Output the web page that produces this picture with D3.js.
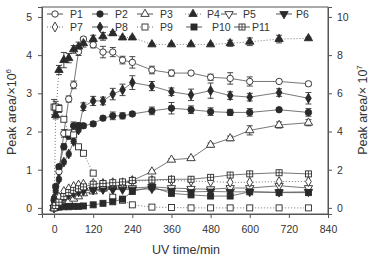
<!DOCTYPE html>
<html>
<head>
<meta charset="utf-8">
<script src="https://cdn.jsdelivr.net/npm/d3@7"></script>
<style>
  body { margin: 0; background: #fff; }
  svg text { font-family: "Liberation Sans", Arial, sans-serif; fill: #333; }
</style>
</head>
<body>
<div id="chart"></div>
<script>
// sampling times (min)
const times = [0, 5, 15, 30, 45, 60, 75, 90, 120, 150, 180, 210, 240, 300, 360, 420, 480, 540, 600, 690, 780];

// peak areas, left axis units (x10^6)
const p1 = [0, 0.3, 0.95, 1.95, 2.85, 3.22, 4.09, 4.42, 4.27, 4.08, 4.08, 3.87, 3.81, 3.61, 3.53, 3.53, 3.42, 3.39, 3.31, 3.31, 3.25];
const p2 = [0.2, 0.56, 1.08, 1.6, 1.88, 2.15, 2.15, 2.15, 2.2, 2.35, 2.41, 2.41, 2.46, 2.54, 2.61, 2.57, 2.52, 2.5, 2.5, 2.57, 2.5];
const p3 = [0, 0.02, 0.05, 0.12, 0.18, 0.24, 0.3, 0.38, 0.43, 0.5, 0.55, 0.62, 0.72, 0.95, 1.26, 1.3, 1.65, 1.82, 2.03, 2.17, 2.23];
const p4 = [0, 2.43, 3.61, 3.87, 3.92, 4.15, 4.22, 4.31, 4.42, 4.49, 4.57, 4.46, 4.46, 4.28, 4.28, 4.28, 4.28, 4.31, 4.35, 4.42, 4.44];
const p5 = [0, 0.05, 0.12, 0.25, 0.33, 0.38, 0.42, 0.45, 0.48, 0.5, 0.5, 0.52, 0.52, 0.55, 0.52, 0.5, 0.49, 0.52, 0.52, 0.58, 0.52];
const p6 = [0, 0.1, 0.2, 0.3, 0.36, 0.4, 0.43, 0.45, 0.47, 0.48, 0.48, 0.48, 0.48, 0.5, 0.45, 0.42, 0.43, 0.42, 0.42, 0.41, 0.42];
const p7 = [0, 0.12, 0.28, 0.43, 0.5, 0.56, 0.6, 0.62, 0.64, 0.64, 0.66, 0.66, 0.7, 0.72, 0.72, 0.7, 0.69, 0.67, 0.67, 0.69, 0.69];
const p8 = [0.25, 0.45, 0.75, 1.2, 1.41, 1.74, 2.04, 2.65, 2.8, 2.8, 2.98, 3.09, 3.28, 3.19, 3.04, 2.96, 3.07, 2.94, 2.9, 3.02, 2.87];
const p9 = [2.64, 2.64, 2.6, 2.32, 1.96, 1.91, 1.6, 1.43, 0.91, 0.6, 0.28, 0.2, 0.08, 0.02, 0.01, 0, 0, 0, 0, 0, 0];
const p10 = [0, 0.01, 0.02, 0.03, 0.03, 0.04, 0.04, 0.05, 0.08, 0.12, 0.16, 0.23, 0.43, 0.55, 0.38, 0.34, 0.31, 0.31, 0.42, 0.4, 0.4];
const p11 = [0, 0.06, 0.15, 0.3, 0.4, 0.46, 0.5, 0.55, 0.62, 0.64, 0.66, 0.68, 0.72, 0.73, 0.75, 0.75, 0.8, 0.86, 0.89, 0.92, 0.89];

// error bars (half widths), same units
const e1 = [0, 0.05, 0.05, 0.1, 0.08, 0.1, 0.1, 0.05, 0.08, 0.15, 0.12, 0.1, 0.15, 0.1, 0.08, 0.05, 0.08, 0.15, 0.12, 0.05, 0.05];
const e2 = [0.05, 0.05, 0.05, 0.08, 0.08, 0.1, 0.08, 0.06, 0.06, 0.05, 0.1, 0.08, 0.05, 0.1, 0.15, 0.1, 0.1, 0.08, 0.1, 0.05, 0.1];
const e3 = [0, 0, 0, 0, 0, 0, 0, 0, 0, 0, 0, 0, 0, 0.03, 0.03, 0.03, 0.05, 0.06, 0.12, 0.08, 0.08];
const e4 = [0, 0.1, 0.12, 0.2, 0.12, 0.1, 0.12, 0.1, 0.1, 0.1, 0.05, 0.03, 0.03, 0.03, 0.03, 0.03, 0.03, 0.08, 0.1, 0.1, 0.03];
const e8 = [0.05, 0.05, 0.05, 0.05, 0.05, 0.05, 0.05, 0.1, 0.12, 0.1, 0.15, 0.15, 0.18, 0.12, 0.1, 0.15, 0.2, 0.1, 0.1, 0.1, 0.15];
const e9 = [0.2, 0.15, 0.1, 0.05, 0.05, 0.05, 0.05, 0, 0, 0, 0, 0, 0, 0, 0, 0, 0, 0, 0, 0, 0];

const xTicks = [0, 120, 240, 360, 480, 600, 720, 840];
const yLeftTicks = [0, 1, 2, 3, 4, 5];
const yRightTicks = [0, 2, 4, 6, 8, 10];

const series = [
  { name: "P1", values: p1, err: e1, shape: "circle", fill: false, dotted: false },
  { name: "P2", values: p2, err: e2, shape: "circle", fill: true, dotted: false },
  { name: "P3", values: p3, err: e3, shape: "triangle", fill: false, dotted: false },
  { name: "P4", values: p4, err: e4, shape: "triangle", fill: true, dotted: true },
  { name: "P5", values: p5, err: null, shape: "tridown", fill: false, dotted: false },
  { name: "P6", values: p6, err: null, shape: "tridown", fill: true, dotted: false },
  { name: "P7", values: p7, err: null, shape: "diamond", fill: false, dotted: true },
  { name: "P8", values: p8, err: e8, shape: "diamond", fill: true, dotted: false },
  { name: "P9", values: p9, err: e9, shape: "square", fill: false, dotted: true },
  { name: "P10", values: p10, err: null, shape: "square", fill: true, dotted: false },
  { name: "P11", values: p11, err: null, shape: "squarecross", fill: false, dotted: false }
];

const width = 373, height = 262;
const svg = d3.select("#chart").append("svg")
  .attr("width", width).attr("height", height);

const x = d3.scaleLinear().domain([-37, 840]).range([42, 328]);
const yL = d3.scaleLinear().domain([-0.16, 5.26]).range([214, 7]);
const yR = d3.scaleLinear().domain([-0.32, 10.52]).range([214, 7]);

const ink = "#2a2a2a";

// frame
svg.append("rect")
  .attr("x", 42).attr("y", 7).attr("width", 286).attr("height", 207)
  .attr("fill", "none").attr("stroke", "#555").attr("stroke-width", 1);

// axes
const gx = svg.append("g").attr("transform", "translate(0,214)")
  .call(d3.axisBottom(x).tickValues(xTicks).tickSize(4).tickPadding(8).tickFormat(d3.format("d")));
const gl = svg.append("g").attr("transform", "translate(42,0)")
  .call(d3.axisLeft(yL).tickValues(yLeftTicks).tickSize(4).tickPadding(6).tickFormat(d3.format("d")));
const gr = svg.append("g").attr("transform", "translate(328,0)")
  .call(d3.axisRight(yR).tickValues(yRightTicks).tickSize(4).tickPadding(5).tickFormat(d3.format("d")));
[gx, gl, gr].forEach(g => {
  g.select(".domain").attr("stroke", "#555");
  g.selectAll(".tick line").attr("stroke", "#555");
  g.selectAll(".tick text").attr("font-size", 10.5).attr("fill", "#333");
});

// axis titles
const leftTitle = svg.append("text")
  .attr("transform", "translate(16,112) rotate(-90)")
  .attr("text-anchor", "middle").attr("font-size", 12.5);
leftTitle.append("tspan").text("Peak area/×10");
leftTitle.append("tspan").attr("dy", -5).attr("font-size", 8).text("6");

const rightTitle = svg.append("text")
  .attr("transform", "translate(367,110) rotate(-90)")
  .attr("text-anchor", "middle").attr("font-size", 12.5);
rightTitle.append("tspan").text("Peak area/× 10");
rightTitle.append("tspan").attr("dy", -5).attr("font-size", 8).text("7");

svg.append("text")
  .attr("x", 186).attr("y", 254)
  .attr("text-anchor", "middle").attr("font-size", 12.5)
  .text("UV time/min");

// marker drawing
function drawMarker(g, s, cx, cy) {
  const fill = s.fill ? ink : "#fff";
  if (s.shape === "circle") {
    g.append("circle").attr("cx", cx).attr("cy", cy).attr("r", 3.2)
      .attr("fill", fill).attr("stroke", ink).attr("stroke-width", 0.9);
  } else if (s.shape === "square" || s.shape === "squarecross") {
    g.append("rect").attr("x", cx - 3).attr("y", cy - 3).attr("width", 6).attr("height", 6)
      .attr("fill", fill).attr("stroke", ink).attr("stroke-width", 0.9);
    if (s.shape === "squarecross") {
      g.append("path").attr("d", `M${cx - 3},${cy}H${cx + 3}M${cx},${cy - 3}V${cy + 3}`)
        .attr("stroke", ink).attr("stroke-width", 0.8);
    }
  } else {
    let sym = d3.symbolTriangle, rot = 0, size = 30;
    if (s.shape === "tridown") rot = 180;
    if (s.shape === "diamond") { sym = d3.symbolDiamond; size = 28; }
    g.append("path").attr("d", d3.symbol().type(sym).size(size)())
      .attr("transform", `translate(${cx},${cy}) rotate(${rot})`)
      .attr("fill", fill).attr("stroke", ink).attr("stroke-width", 0.9);
  }
}

const line = d3.line().x(d => x(d.t)).y(d => yL(d.v));

const plot = svg.append("g");
series.forEach(s => {
  const pts = times.map((t, i) => ({ t: t, v: s.values[i] }));
  plot.append("path").datum(pts)
    .attr("d", line)
    .attr("fill", "none")
    .attr("stroke", s.dotted ? "#777" : "#555")
    .attr("stroke-width", s.dotted ? 1 : 0.8)
    .attr("stroke-dasharray", s.dotted ? "1,2" : null);
});

series.forEach(s => {
  if (!s.err) return;
  times.forEach((t, i) => {
    const e = s.err[i];
    if (!e) return;
    const cx = x(t), y1 = yL(s.values[i] + e), y2 = yL(s.values[i] - e);
    plot.append("path")
      .attr("d", `M${cx},${y1}V${y2}M${cx - 3},${y1}H${cx + 3}M${cx - 3},${y2}H${cx + 3}`)
      .attr("stroke", "#333").attr("stroke-width", 0.9).attr("fill", "none");
  });
});

series.forEach(s => {
  const g = plot.append("g");
  times.forEach((t, i) => drawMarker(g, s, x(t), yL(s.values[i])));
});

// legend
const legendPos = [
  [55, 70, 14], [100, 115, 14], [145, 160, 14], [193, 207, 14], [229, 243, 14], [284, 296, 14],
  [55, 70, 27], [100, 115, 27], [145, 160, 27], [194, 212, 27], [242, 252, 27]
];
const legend = svg.append("g");
series.forEach((s, i) => {
  const [sx, tx, ly] = legendPos[i];
  legend.append("line")
    .attr("x1", sx - 8).attr("x2", sx + 8).attr("y1", ly).attr("y2", ly)
    .attr("stroke", s.dotted ? "#777" : "#555").attr("stroke-width", 1)
    .attr("stroke-dasharray", s.dotted ? "1,2" : null);
  drawMarker(legend, s, sx, ly);
  legend.append("text").attr("x", tx).attr("y", ly + 3.5)
    .attr("font-size", 10.5).text(s.name);
});
</script>
</body>
</html>
